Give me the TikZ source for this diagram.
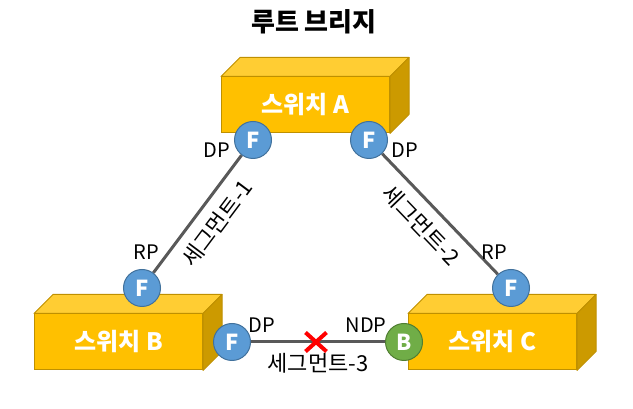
\documentclass[tikz,border=0pt]{standalone}
\usepackage{fontspec}
\setmainfont{Noto Sans CJK KR}
\usepackage{xcolor}
\usepackage{tikz}
\usetikzlibrary{shapes.misc, calc, positioning, backgrounds}
\definecolor{swfront}{HTML}{FFC000}
\definecolor{swtop}{HTML}{FFCD33}
\definecolor{swside}{HTML}{CC9A00}
\definecolor{swedge}{HTML}{BF9000}
\definecolor{portblue}{HTML}{5B9BD5}
\definecolor{portblueedge}{HTML}{41719C}
\definecolor{portgreen}{HTML}{70AD47}
\definecolor{portgreenedge}{HTML}{507E32}
\definecolor{linkgray}{HTML}{595959}
\tikzset{
  switchbox/.style={rectangle, draw=swedge, fill=swfront, line width=1pt, minimum width=168pt, minimum height=56pt, inner sep=0pt, text=white, font=\fontsize{24}{28}\selectfont\bfseries},
  fwdport/.style={circle, draw=portblueedge, fill=portblue, line width=1pt, minimum size=37pt, inner sep=0pt, text=white, font=\fontsize{22}{24}\selectfont\bfseries},
  blkport/.style={circle, draw=portgreenedge, fill=portgreen, line width=1pt, minimum size=37pt, inner sep=0pt, text=white, font=\fontsize{22}{24}\selectfont\bfseries},
  link/.style={draw=linkgray, line width=3pt},
  portlabel/.style={font=\fontsize{20}{22}\selectfont, inner sep=1pt},
  seglabel/.style={font=\fontsize{22}{24}\selectfont, sloped, below=9pt, inner sep=1pt},
  cut/.style={cross out, draw=red, line width=4pt, minimum width=17pt, minimum height=15pt, inner sep=0pt},
}
% top and right faces of a switch box
\newcommand{\switchfaces}[1]{
  \filldraw[draw=swedge, fill=swtop, line width=1pt, line join=round]
    (#1.north west) -- (#1.north east) -- ($(#1.north east)+(19,19)$) -- ($(#1.north west)+(19,19)$) -- cycle;
  \filldraw[draw=swedge, fill=swside, line width=1pt, line join=round]
    (#1.north east) -- (#1.south east) -- ($(#1.south east)+(19,19)$) -- ($(#1.north east)+(19,19)$) -- cycle;
}

\begin{document}
\begin{tikzpicture}[x=1pt, y=1pt]
  \useasboundingbox (0,0) rectangle (633,409);

  % Title
  \node[font=\fontsize{26}{30}\selectfont\bfseries] (title) at (314,387) {루트 브리지};

  % Switches
  \node[switchbox] (swA) at (305.5,304) {스위치 A};
  \node[switchbox] (swB) at (118.5,67) {스위치 B};
  \node[switchbox] (swC) at (492.5,67) {스위치 C};
  \switchfaces{swA}
  \switchfaces{swB}
  \switchfaces{swC}

  % Ports
  \node[fwdport] (pA1) at (253,269) {F};
  \node[fwdport] (pA2) at (369,269) {F};
  \node[fwdport] (pB1) at (142,121) {F};
  \node[fwdport] (pB2) at (232,67) {F};
  \node[fwdport] (pC1) at (511,121) {F};
  \node[blkport] (pC2) at (404,67) {B};

  % Segments
  \begin{scope}[on background layer]
    \draw[link] (pB1) -- node[seglabel, pos=0.53] {세그먼트-1} (pA1);
    \draw[link] (pA2) -- node[seglabel, pos=0.47] {세그먼트-2} (pC1);
    \draw[link] (pB2) -- node[seglabel] {세그먼트-3} (pC2);
  \end{scope}

  % Blocked segment
  \node[cut] (x3) at (316,67) {};

  % Port roles
  \node[portlabel] (rA1) at (217,259) {DP};
  \node[portlabel] (rA2) at (405,259) {DP};
  \node[portlabel] (rB1) at (146,157) {RP};
  \node[portlabel] (rC1) at (494,157) {RP};
  \node[portlabel] (rB2) at (262,84) {DP};
  \node[portlabel] (rC2) at (366,84) {NDP};
\end{tikzpicture}
\end{document}
